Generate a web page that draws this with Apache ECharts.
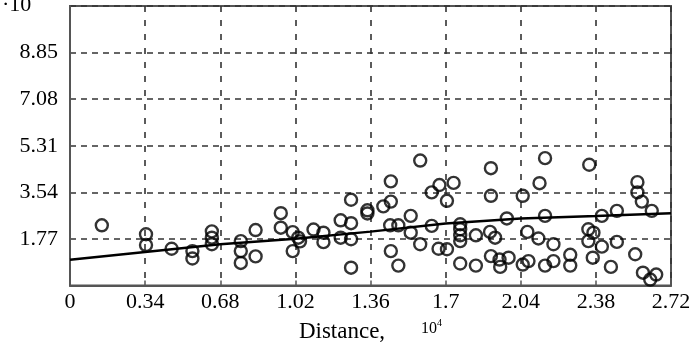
<!DOCTYPE html>
<html>
<head>
<meta charset="utf-8">
<script src="https://cdn.jsdelivr.net/npm/echarts@6/dist/echarts.min.js"></script>
<style>
  html, body { margin: 0; padding: 0; background: #fff; }
  #main { width: 694px; height: 348px; }
</style>
</head>
<body>
<div id="main"></div>
<script>
// Scatter points, distance in 10^4
const pointX = [
  0.144, 0.344, 0.344, 0.46, 0.554, 0.554, 0.642, 0.642, 0.642, 0.773,
  0.773, 0.773, 0.84, 0.84, 0.954, 0.954, 1.008, 1.033, 1.041, 1.008,
  1.102, 1.147, 1.147, 1.225, 1.225, 1.272, 1.272, 1.272, 1.272, 1.346,
  1.346, 1.452, 1.452, 1.418, 1.449, 1.486, 1.452, 1.486, 1.542, 1.542,
  1.585, 1.585, 1.637, 1.637, 1.672, 1.668, 1.706, 1.706, 1.736, 1.766,
  1.766, 1.766, 1.766, 1.837, 1.766, 1.837, 1.905, 1.905, 1.901, 1.924,
  1.905, 1.944, 1.947, 1.985, 1.977, 2.049, 2.049, 2.075, 2.07, 2.125,
  2.12, 2.15, 2.15, 2.188, 2.15, 2.188, 2.264, 2.264, 2.35, 2.407,
  2.475, 2.346, 2.369, 2.346, 2.407, 2.475, 2.366, 2.448, 2.568, 2.568,
  2.588, 2.633, 2.558, 2.593, 2.653, 2.626
];
const pointY = [
  2.29, 1.95, 1.54, 1.40, 1.31, 1.03, 2.06, 1.82, 1.57, 1.69,
  1.31, 0.86, 2.11, 1.11, 2.75, 2.20, 2.03, 1.82, 1.68, 1.31,
  2.13, 2.01, 1.65, 2.48, 1.82, 3.26, 2.37, 1.76, 0.68, 2.86,
  2.74, 3.96, 3.19, 3.01, 2.29, 2.29, 1.31, 0.76, 2.65, 2.01,
  4.75, 1.57, 2.27, 3.54, 3.82, 1.40, 3.22, 1.38, 3.90, 2.33,
  2.14, 1.91, 1.69, 1.91, 0.84, 0.76, 4.46, 3.41, 2.04, 1.82,
  1.12, 0.99, 0.71, 1.06, 2.55, 3.41, 0.80, 0.93, 2.04, 3.89,
  1.79, 4.84, 2.65, 1.57, 0.76, 0.93, 1.17, 0.76, 4.59, 2.65,
  2.84, 2.14, 2.01, 1.69, 1.48, 1.66, 1.06, 0.71, 3.93, 3.54,
  3.19, 2.84, 1.19, 0.49, 0.42, 0.23
];

// Fitted curve
const lineX = [0, 0.34, 0.68, 1.02, 1.36, 1.7, 2.04, 2.38, 2.72];
const lineY = [0.98, 1.28, 1.57, 1.78, 2.05, 2.36, 2.55, 2.64, 2.75];

const xTicks = { min: 0, max: 2.72, step: 0.34 };
const yTicks = { min: 0, max: 10.62, step: 1.77 };

const serif = '"Liberation Serif", "DejaVu Serif", serif';

const chart = echarts.init(document.getElementById('main'));

chart.setOption({
  animation: false,
  backgroundColor: '#fff',
  grid: {
    left: 70,
    right: 23,
    top: 6,
    bottom: 62,
    containLabel: false,
    show: true,
    borderColor: '#555',
    borderWidth: 2
  },
  graphic: [
    {
      type: 'text',
      left: 2,
      top: -6,
      style: { text: '·10', font: '22px ' + serif, fill: '#000' }
    }
  ],
  xAxis: {
    type: 'value',
    min: xTicks.min,
    max: xTicks.max,
    interval: xTicks.step,
    name: '{a|Distance,}{b|10}{c|4}',
    nameLocation: 'middle',
    nameGap: 31,
    nameTextStyle: {
      rich: {
        a: { fontFamily: serif, fontSize: 23, color: '#000' },
        b: { fontFamily: serif, fontSize: 16, color: '#000', padding: [0, 0, 6, 36] },
        c: { fontFamily: serif, fontSize: 10, color: '#000', padding: [0, 0, 16, 0] }
      }
    },
    axisLine: { show: true, lineStyle: { color: '#555', width: 2 } },
    axisTick: { show: true, inside: true, length: 5, lineStyle: { color: '#555', width: 1.5 } },
    axisLabel: {
      margin: 6,
      fontFamily: serif,
      fontSize: 22,
      color: '#000',
      formatter: (v) => String(+v.toFixed(2))
    },
    splitLine: {
      show: true,
      lineStyle: { color: '#333', width: 1.6, type: [6, 8] }
    }
  },
  yAxis: {
    type: 'value',
    min: yTicks.min,
    max: yTicks.max,
    interval: yTicks.step,
    axisLine: { show: true, lineStyle: { color: '#555', width: 2 } },
    axisTick: { show: false },
    axisLabel: {
      margin: 12,
      fontFamily: serif,
      fontSize: 22,
      color: '#000',
      formatter: (v) => (v <= 0 || v > 10 ? '' : v.toFixed(2))
    },
    splitLine: {
      show: true,
      lineStyle: { color: '#333', width: 1.6, type: [6, 5] }
    }
  },
  series: [
    {
      type: 'line',
      data: lineX.map((x, i) => [x, lineY[i]]),
      showSymbol: false,
      lineStyle: { color: '#000', width: 2.5 },
      z: 3
    },
    {
      type: 'scatter',
      data: pointX.map((x, i) => [x, pointY[i]]),
      symbol: 'circle',
      symbolSize: 12,
      itemStyle: { color: 'rgba(0,0,0,0)', borderColor: '#000', borderWidth: 2.4 },
      z: 4
    }
  ]
});
</script>
</body>
</html>
